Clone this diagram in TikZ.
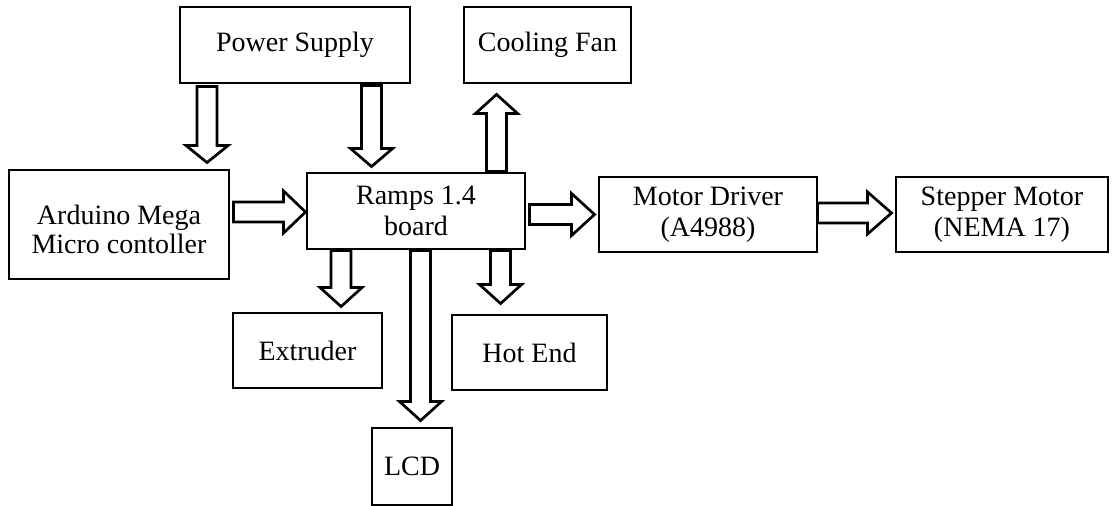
\documentclass[tikz,border=0pt]{standalone}
\usepackage{fontspec}
\setmainfont{Liberation Serif}
\usetikzlibrary{calc}
\tikzset{
  box/.style={draw, line width=2.9pt, fill=white, align=center, inner sep=0pt,
    font=\fontsize{28}{31}\selectfont},
  txt/.style={align=center, inner sep=0pt, font=\fontsize{28}{29}\selectfont},
  blkline/.style={draw, line width=2.7pt, fill=white, line join=miter},
}
\newcommand{\blk}[3]{%
  \coordinate (bS) at #1;
  \coordinate (bT) at #2;
  \coordinate (bB) at ($(bT)!#3!(bS)$);
  \draw[blkline] ($(bS)!10pt!90:(bT)$) -- ($(bB)!10pt!90:(bT)$) -- ($(bB)!21pt!90:(bT)$)
    -- (bT) -- ($(bB)!21pt!-90:(bT)$) -- ($(bB)!10pt!-90:(bT)$) -- ($(bS)!10pt!-90:(bT)$) -- cycle;
}
\begin{document}
\begin{tikzpicture}[x=1pt,y=-1pt]
\useasboundingbox (0,0) rectangle (1112,506);
\node[box, minimum width=230pt, minimum height=76pt] (ps) at (295,45) {Power Supply};
\node[box, minimum width=167pt, minimum height=76pt] (fan) at (547.5,45) {Cooling Fan};
\node[box, minimum width=220pt, minimum height=109pt] (ard) at (119,224.5) {};
\node[txt] (ardtext) at ($(ard.center)+(0,5)$) {Arduino Mega\\Micro contoller};
\node[box, minimum width=218pt, minimum height=76pt] (ramps) at (416,211) {Ramps 1.4\\board};
\node[box, minimum width=218pt, minimum height=75pt] (motor) at (708,214.5) {Motor Driver\\(A4988)};
\node[box, minimum width=212pt, minimum height=75pt] (step) at (1002,214.5) {Stepper Motor\\(NEMA 17)};
\node[box, minimum width=149pt, minimum height=75pt] (ext) at (307.5,350.5) {Extruder};
\node[box, minimum width=155pt, minimum height=75pt] (hot) at (529.5,352.5) {Hot End};
\node[box, minimum width=80pt, minimum height=77pt] (lcd) at (412,466.5) {LCD};

\blk{($(ps.south west)+(28.5,2)$)}{($(ard.north west)+(199.5,-6)$)}{17pt}
\blk{($(ps.south west)+(193,1)$)}{($(ramps.north west)+(66,-5)$)}{18pt}
\blk{($(ramps.north west)+(191,0)$)}{($(fan.south west)+(34,10)$)}{19pt}
\blk{($(ard.east)+(3,-12.5)$)}{($(ramps.west)+(0,1)$)}{22pt}
\blk{($(ramps.east)+(3,3.5)$)}{($(motor.west)+(-3,0)$)}{23pt}
\blk{($(motor.east)+(-1,-1.5)$)}{($(step.west)+(-3,-1.5)$)}{24pt}
\blk{($(ramps.south west)+(35.5,0)$)}{($(ext.north west)+(109.5,-5)$)}{19pt}
\blk{($(ramps.south west)+(115,0)$)}{($(lcd.north west)+(50,-6)$)}{19pt}
\blk{($(ramps.south west)+(195,0)$)}{($(hot.north west)+(50,-10)$)}{19pt}
\end{tikzpicture}
\end{document}
